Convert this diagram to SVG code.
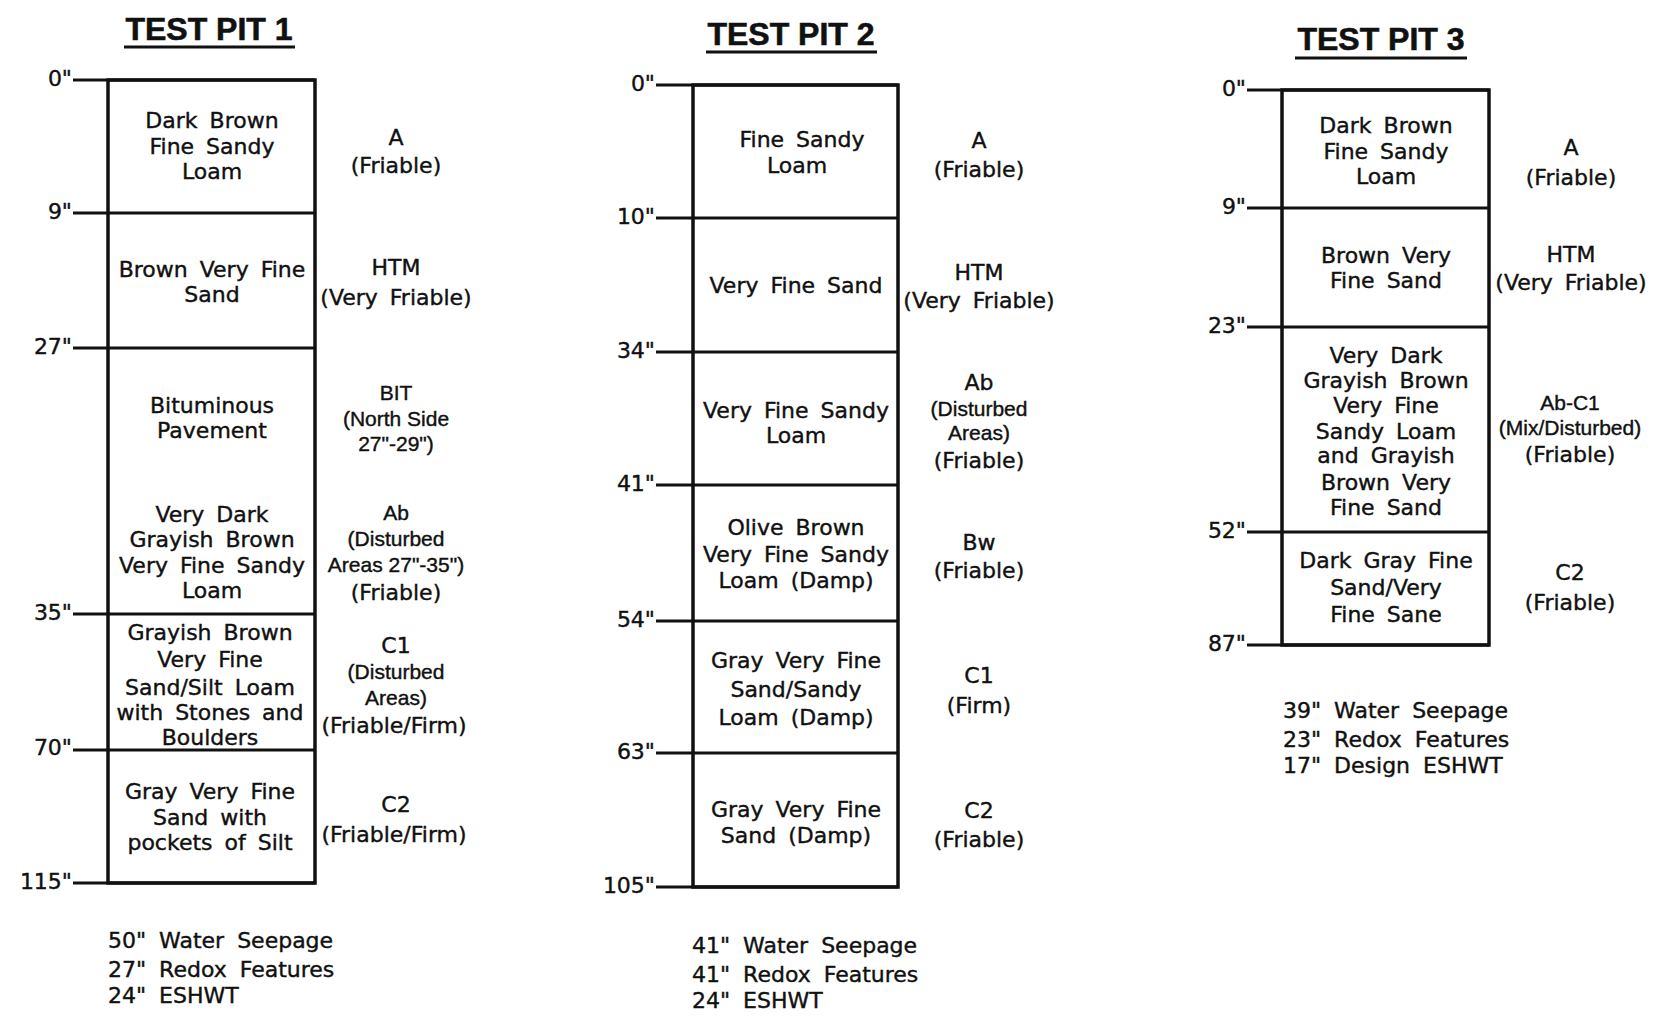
<svg xmlns="http://www.w3.org/2000/svg" width="1659" height="1022" viewBox="0 0 1659 1022">
<style>
.bg{fill:#fff}
.ln{stroke:#111;stroke-width:3;fill:none}
.box{stroke:#111;stroke-width:3.5;fill:none}
.ttl{font-family:"Liberation Sans",Arial,sans-serif;font-weight:bold;font-size:32px;text-anchor:middle;fill:#111;stroke:#111;stroke-width:0.6}
.t{font-family:"DejaVu Sans",sans-serif;font-size:22px;text-anchor:middle;word-spacing:5px;fill:#111;stroke:#111;stroke-width:0.4}
.n{font-family:"Liberation Sans",Arial,sans-serif;font-size:21px;text-anchor:middle;fill:#111;stroke:#111;stroke-width:0.4}
.d{font-family:"DejaVu Sans",sans-serif;font-size:22px;text-anchor:end;fill:#111;stroke:#111;stroke-width:0.4}
.note{font-family:"DejaVu Sans",sans-serif;font-size:22px;text-anchor:start;word-spacing:6px;fill:#111;stroke:#111;stroke-width:0.4}
</style>
<rect class="bg" x="0" y="0" width="1659" height="1022"/>

<g id="connectors">
  <!-- Pit 1 -->
  <rect class="box" x="108" y="80" width="207" height="803"/>
  <line class="ln" x1="73" y1="80" x2="315" y2="80"/>
  <line class="ln" x1="73" y1="213" x2="315" y2="213"/>
  <line class="ln" x1="73" y1="348" x2="315" y2="348"/>
  <line class="ln" x1="73" y1="614" x2="315" y2="614"/>
  <line class="ln" x1="73" y1="750" x2="315" y2="750"/>
  <line class="ln" x1="73" y1="883" x2="315" y2="883"/>
  <!-- Pit 2 -->
  <rect class="box" x="693" y="85" width="205" height="802"/>
  <line class="ln" x1="656" y1="85" x2="898" y2="85"/>
  <line class="ln" x1="656" y1="218" x2="898" y2="218"/>
  <line class="ln" x1="656" y1="352" x2="898" y2="352"/>
  <line class="ln" x1="656" y1="485" x2="898" y2="485"/>
  <line class="ln" x1="656" y1="621" x2="898" y2="621"/>
  <line class="ln" x1="656" y1="753" x2="898" y2="753"/>
  <line class="ln" x1="656" y1="887" x2="898" y2="887"/>
  <!-- Pit 3 -->
  <rect class="box" x="1282" y="90" width="207" height="555"/>
  <line class="ln" x1="1247" y1="90" x2="1489" y2="90"/>
  <line class="ln" x1="1247" y1="208" x2="1489" y2="208"/>
  <line class="ln" x1="1247" y1="327" x2="1489" y2="327"/>
  <line class="ln" x1="1247" y1="532" x2="1489" y2="532"/>
  <line class="ln" x1="1247" y1="645" x2="1489" y2="645"/>
  <!-- title underlines -->
  <line class="ln" x1="124" y1="47" x2="295" y2="47"/>
  <line class="ln" x1="706" y1="52" x2="877" y2="52"/>
  <line class="ln" x1="1295" y1="58" x2="1467" y2="58"/>
</g>

<g id="pit1">
  <text class="ttl" x="209" y="40">TEST PIT 1</text>
  <g id="pit1-depths">
    <text class="d" x="72" y="86">0"</text>
    <text class="d" x="72" y="219">9"</text>
    <text class="d" x="72" y="354">27"</text>
    <text class="d" x="72" y="620">35"</text>
    <text class="d" x="72" y="755">70"</text>
    <text class="d" x="72" y="889">115"</text>
  </g>
  <g id="pit1-layer1">
    <text class="t" x="212" y="128">Dark Brown</text>
    <text class="t" x="212" y="154">Fine Sandy</text>
    <text class="t" x="212" y="179">Loam</text>
    <text class="t" x="396" y="145">A</text>
    <text class="t" x="396" y="173">(Friable)</text>
  </g>
  <g id="pit1-layer2">
    <text class="t" x="212" y="277">Brown Very Fine</text>
    <text class="t" x="212" y="302">Sand</text>
    <text class="t" x="396" y="275">HTM</text>
    <text class="t" x="396" y="305">(Very Friable)</text>
  </g>
  <g id="pit1-layer3">
    <text class="t" x="212" y="413">Bituminous</text>
    <text class="t" x="212" y="438">Pavement</text>
    <text class="n" x="396" y="400">BIT</text>
    <text class="n" x="396" y="426">(North Side</text>
    <text class="n" x="396" y="451">27"-29")</text>
  </g>
  <g id="pit1-layer4">
    <text class="t" x="212" y="522">Very Dark</text>
    <text class="t" x="212" y="547">Grayish Brown</text>
    <text class="t" x="212" y="573">Very Fine Sandy</text>
    <text class="t" x="212" y="598">Loam</text>
    <text class="n" x="396" y="520">Ab</text>
    <text class="n" x="396" y="546">(Disturbed</text>
    <text class="n" x="396" y="572">Areas 27"-35")</text>
    <text class="t" x="396" y="600">(Friable)</text>
  </g>
  <g id="pit1-layer5">
    <text class="t" x="210" y="640">Grayish Brown</text>
    <text class="t" x="210" y="667">Very Fine</text>
    <text class="t" x="210" y="695">Sand/Silt Loam</text>
    <text class="t" x="210" y="720">with Stones and</text>
    <text class="t" x="210" y="745">Boulders</text>
    <text class="t" x="396" y="653">C1</text>
    <text class="n" x="396" y="679">(Disturbed</text>
    <text class="n" x="396" y="705">Areas)</text>
    <text class="t" x="394" y="733">(Friable/Firm)</text>
  </g>
  <g id="pit1-layer6">
    <text class="t" x="210" y="799">Gray Very Fine</text>
    <text class="t" x="210" y="825">Sand with</text>
    <text class="t" x="210" y="850">pockets of Silt</text>
    <text class="t" x="396" y="812">C2</text>
    <text class="t" x="394" y="842">(Friable/Firm)</text>
  </g>
  <g id="pit1-notes">
    <text class="note" x="108" y="948">50" Water Seepage</text>
    <text class="note" x="108" y="977">27" Redox Features</text>
    <text class="note" x="108" y="1003">24" ESHWT</text>
  </g>
</g>

<g id="pit2">
  <text class="ttl" x="791" y="45">TEST PIT 2</text>
  <g id="pit2-depths">
    <text class="d" x="655" y="91">0"</text>
    <text class="d" x="655" y="224">10"</text>
    <text class="d" x="655" y="358">34"</text>
    <text class="d" x="655" y="491">41"</text>
    <text class="d" x="655" y="627">54"</text>
    <text class="d" x="655" y="759">63"</text>
    <text class="d" x="655" y="893">105"</text>
  </g>
  <g id="pit2-layer1">
    <text class="t" x="802" y="147">Fine Sandy</text>
    <text class="t" x="797" y="173">Loam</text>
    <text class="t" x="979" y="148">A</text>
    <text class="t" x="979" y="177">(Friable)</text>
  </g>
  <g id="pit2-layer2">
    <text class="t" x="796" y="293">Very Fine Sand</text>
    <text class="t" x="979" y="280">HTM</text>
    <text class="t" x="979" y="308">(Very Friable)</text>
  </g>
  <g id="pit2-layer3">
    <text class="t" x="796" y="418">Very Fine Sandy</text>
    <text class="t" x="796" y="443">Loam</text>
    <text class="t" x="979" y="390">Ab</text>
    <text class="n" x="979" y="416">(Disturbed</text>
    <text class="n" x="979" y="440">Areas)</text>
    <text class="t" x="979" y="468">(Friable)</text>
  </g>
  <g id="pit2-layer4">
    <text class="t" x="796" y="535">Olive Brown</text>
    <text class="t" x="796" y="562">Very Fine Sandy</text>
    <text class="t" x="796" y="588">Loam (Damp)</text>
    <text class="t" x="979" y="550">Bw</text>
    <text class="t" x="979" y="578">(Friable)</text>
  </g>
  <g id="pit2-layer5">
    <text class="t" x="796" y="668">Gray Very Fine</text>
    <text class="t" x="796" y="697">Sand/Sandy</text>
    <text class="t" x="796" y="725">Loam (Damp)</text>
    <text class="t" x="979" y="683">C1</text>
    <text class="t" x="979" y="713">(Firm)</text>
  </g>
  <g id="pit2-layer6">
    <text class="t" x="796" y="817">Gray Very Fine</text>
    <text class="t" x="796" y="843">Sand (Damp)</text>
    <text class="t" x="979" y="818">C2</text>
    <text class="t" x="979" y="847">(Friable)</text>
  </g>
  <g id="pit2-notes">
    <text class="note" x="692" y="953">41" Water Seepage</text>
    <text class="note" x="692" y="982">41" Redox Features</text>
    <text class="note" x="692" y="1008">24" ESHWT</text>
  </g>
</g>

<g id="pit3">
  <text class="ttl" x="1381" y="50">TEST PIT 3</text>
  <g id="pit3-depths">
    <text class="d" x="1246" y="96">0"</text>
    <text class="d" x="1246" y="214">9"</text>
    <text class="d" x="1246" y="333">23"</text>
    <text class="d" x="1246" y="538">52"</text>
    <text class="d" x="1246" y="651">87"</text>
  </g>
  <g id="pit3-layer1">
    <text class="t" x="1386" y="133">Dark Brown</text>
    <text class="t" x="1386" y="159">Fine Sandy</text>
    <text class="t" x="1386" y="184">Loam</text>
    <text class="t" x="1571" y="155">A</text>
    <text class="t" x="1571" y="185">(Friable)</text>
  </g>
  <g id="pit3-layer2">
    <text class="t" x="1386" y="263">Brown Very</text>
    <text class="t" x="1386" y="288">Fine Sand</text>
    <text class="t" x="1571" y="262">HTM</text>
    <text class="t" x="1571" y="290">(Very Friable)</text>
  </g>
  <g id="pit3-layer3">
    <text class="t" x="1386" y="363">Very Dark</text>
    <text class="t" x="1386" y="388">Grayish Brown</text>
    <text class="t" x="1386" y="413">Very Fine</text>
    <text class="t" x="1386" y="439">Sandy Loam</text>
    <text class="t" x="1386" y="463">and Grayish</text>
    <text class="t" x="1386" y="490">Brown Very</text>
    <text class="t" x="1386" y="515">Fine Sand</text>
    <text class="n" x="1570" y="410">Ab-C1</text>
    <text class="n" x="1570" y="435">(Mix/Disturbed)</text>
    <text class="t" x="1570" y="462">(Friable)</text>
  </g>
  <g id="pit3-layer4">
    <text class="t" x="1386" y="568">Dark Gray Fine</text>
    <text class="t" x="1386" y="595">Sand/Very</text>
    <text class="t" x="1386" y="622">Fine Sane</text>
    <text class="t" x="1570" y="580">C2</text>
    <text class="t" x="1570" y="610">(Friable)</text>
  </g>
  <g id="pit3-notes">
    <text class="note" x="1283" y="718">39" Water Seepage</text>
    <text class="note" x="1283" y="747">23" Redox Features</text>
    <text class="note" x="1283" y="773">17" Design ESHWT</text>
  </g>
</g>
</svg>
